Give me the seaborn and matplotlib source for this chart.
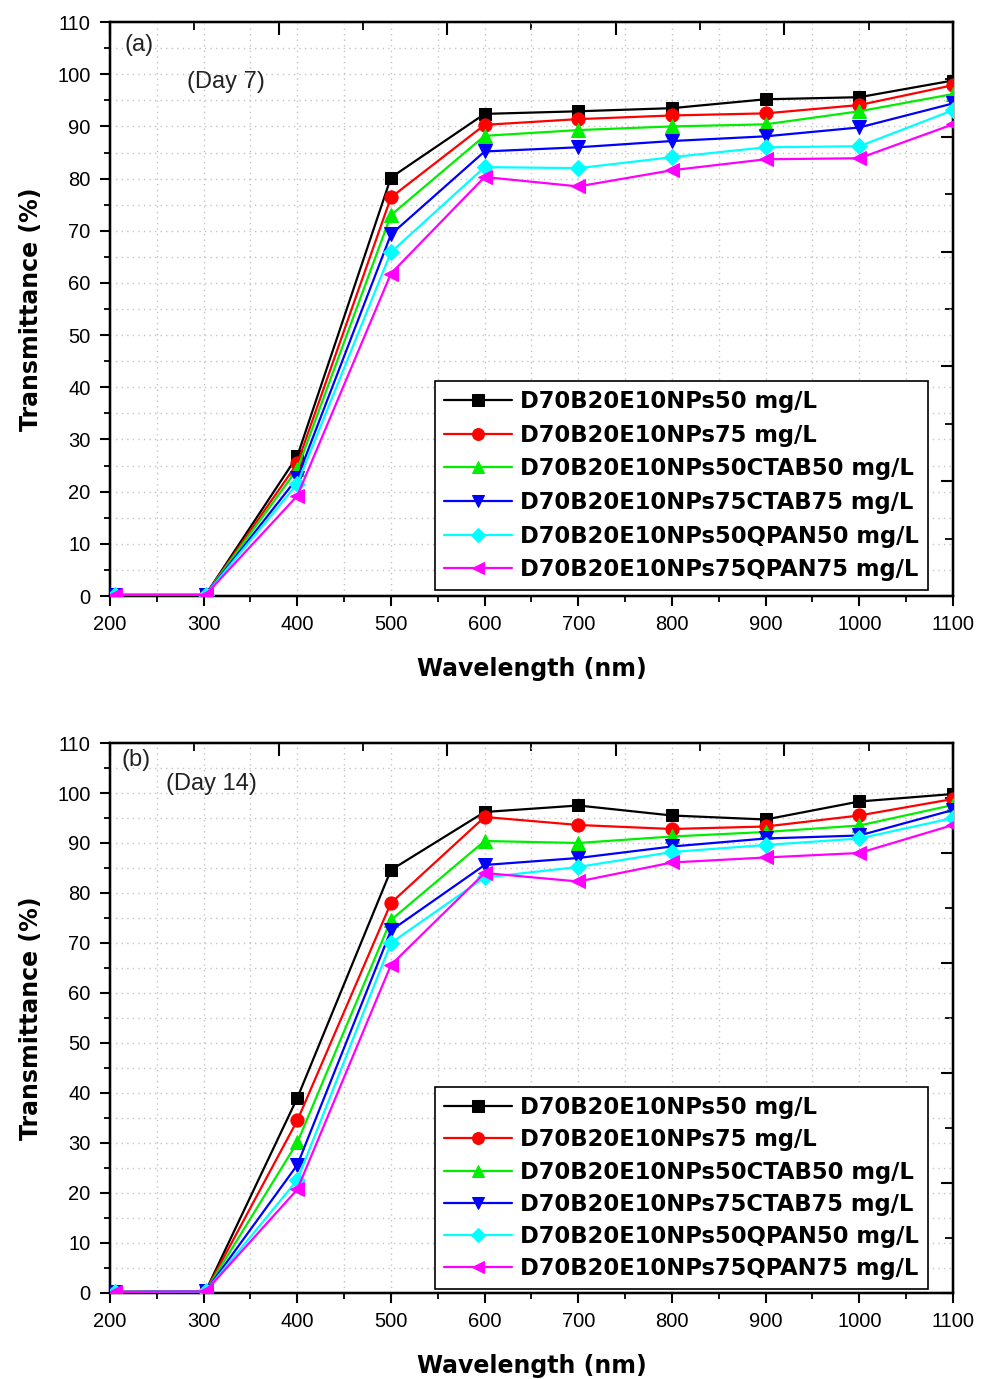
import numpy as np
import pandas as pd
import seaborn as sns
import matplotlib
matplotlib.use("Agg")
import matplotlib.pyplot as plt
from matplotlib.ticker import MultipleLocator

sns.set_style("white")
plt.rcParams['font.family'] = ['Liberation Sans', 'DejaVu Sans']
plt.rcParams['text.color'] = 'black'
plt.rcParams['axes.labelcolor'] = 'black'
plt.rcParams['xtick.color'] = 'black'
plt.rcParams['ytick.color'] = 'black'

# wavelength (nm)
wavelength = [205, 302, 400, 500, 600, 700, 800, 900, 1000, 1100]

series_names = [
    'D70B20E10NPs50 mg/L',
    'D70B20E10NPs75 mg/L',
    'D70B20E10NPs50CTAB50 mg/L',
    'D70B20E10NPs75CTAB75 mg/L',
    'D70B20E10NPs50QPAN50 mg/L',
    'D70B20E10NPs75QPAN75 mg/L',
]
colors = ['#000000', '#ff0000', '#00ee00', '#0000ff', '#00ffff', '#ff00ff']
markers = ['s', 'o', '^', 'v', 'D', '<']
marker_sizes = [9, 9.5, 10, 10, 8, 10]

# Day 7 transmittance (%)
day7_np50 = [0.2, 0.2, 26.8, 80.2, 92.4, 92.9, 93.5, 95.2, 95.6, 98.8]
day7_np75 = [0.2, 0.2, 25.4, 76.4, 90.3, 91.4, 92.1, 92.5, 94.1, 97.9]
day7_ctab50 = [0.2, 0.2, 24.3, 73.0, 88.2, 89.3, 90.0, 90.4, 92.9, 96.2]
day7_ctab75 = [0.2, 0.2, 22.6, 69.3, 85.2, 86.0, 87.2, 88.1, 89.8, 94.4]
day7_qpan50 = [0.2, 0.2, 21.5, 65.9, 82.2, 82.0, 84.1, 86.0, 86.2, 93.1]
day7_qpan75 = [0.2, 0.2, 19.2, 61.8, 80.3, 78.5, 81.6, 83.7, 83.9, 90.4]

# Day 14 transmittance (%)
day14_np50 = [0.2, 0.3, 39.0, 84.6, 96.2, 97.5, 95.5, 94.7, 98.3, 99.8]
day14_np75 = [0.2, 0.3, 34.5, 78.0, 95.2, 93.6, 92.8, 93.3, 95.5, 98.8]
day14_ctab50 = [0.2, 0.3, 30.1, 74.6, 90.4, 90.0, 91.3, 92.2, 93.5, 97.6]
day14_ctab75 = [0.2, 0.3, 25.6, 72.5, 85.6, 87.0, 89.3, 90.9, 91.5, 96.6]
day14_qpan50 = [0.2, 0.3, 22.6, 70.0, 83.1, 85.2, 88.2, 89.6, 90.9, 95.0]
day14_qpan75 = [0.2, 0.3, 20.7, 65.6, 84.0, 82.3, 86.1, 87.1, 88.0, 93.6]

panels = [
    ('(a)', '(Day 7)', [day7_np50, day7_np75, day7_ctab50, day7_ctab75, day7_qpan50, day7_qpan75]),
    ('(b)', '(Day 14)', [day14_np50, day14_np75, day14_ctab50, day14_ctab75, day14_qpan50, day14_qpan75]),
]

fig = plt.figure(figsize=(9.81, 13.79), dpi=100)
axes_rects = [[0.1121, 0.5678, 0.8593, 0.4162], [0.1121, 0.0624, 0.8593, 0.3988]]
label_pos = [((0.017, 0.960), (0.091, 0.8955)), ((0.014, 0.969), (0.066, 0.9255))]
legend_spacing = [0.47, 0.41]

for rect, (tag, day, values), (tag_xy, day_xy), lsp in zip(axes_rects, panels, label_pos, legend_spacing):
    ax = fig.add_axes(rect)
    for name, vals, c, m, ms in zip(series_names, values, colors, markers, marker_sizes):
        df = pd.DataFrame({'Wavelength': wavelength, 'Transmittance': vals})
        sns.lineplot(data=df, x='Wavelength', y='Transmittance', ax=ax, color=c,
                     marker=m, markersize=ms, markeredgecolor=c, linewidth=1.6,
                     label=name, zorder=3)

    ax.set_xlim(200, 1100)
    ax.set_ylim(0, 110)
    ax.xaxis.set_major_locator(MultipleLocator(100))
    ax.xaxis.set_minor_locator(MultipleLocator(50))
    ax.yaxis.set_major_locator(MultipleLocator(10))
    ax.yaxis.set_minor_locator(MultipleLocator(5))
    ax.grid(True, which='both', color='#c4c4c4', linestyle=(0, (1, 3)), linewidth=1.0)
    ax.set_axisbelow(True)
    ax.tick_params(which='major', direction='out', length=7, width=1.5,
                   labelsize=14.5, pad=7)
    ax.tick_params(which='minor', direction='out', length=4, width=1.3)
    for s in ax.spines.values():
        s.set_linewidth(1.6)
        s.set_color('black')

    ax.set_xlabel('Wavelength (nm)', family='DejaVu Sans', fontweight='bold',
                  fontsize=17, labelpad=16)
    ax.set_ylabel('Transmittance (%)', family='DejaVu Sans', fontweight='bold',
                  fontsize=17, labelpad=10)

    # decorative top/right axes with their own tick spacing
    top = ax.twiny()
    top.set_xlim(0, 5)
    top.xaxis.set_major_locator(MultipleLocator(1))
    top.xaxis.set_minor_locator(MultipleLocator(0.5))
    top.tick_params(which='major', direction='in', length=9, width=1.5, labeltop=False)
    top.tick_params(which='minor', direction='in', length=6, width=1.3)
    right = ax.twinx()
    right.set_ylim(0, 5)
    right.yaxis.set_major_locator(MultipleLocator(1))
    right.yaxis.set_minor_locator(MultipleLocator(0.5))
    right.tick_params(which='major', direction='in', length=9, width=1.5, labelright=False)
    right.tick_params(which='minor', direction='in', length=6, width=1.3)
    for t in (top, right):
        t.grid(False)
        for s in t.spines.values():
            s.set_linewidth(1.6)

    ax.text(tag_xy[0], tag_xy[1], tag, transform=ax.transAxes, fontsize=17,
            ha='left', va='center', color='#222222')
    ax.text(day_xy[0], day_xy[1], day, transform=ax.transAxes, fontsize=17,
            ha='left', va='center', color='#222222')

    leg = ax.legend(loc='upper left', bbox_to_anchor=(0.3855, 0.3746), borderaxespad=0,
                    prop={'family': 'DejaVu Sans', 'weight': 'bold', 'size': 16.3},
                    frameon=True, fancybox=False, edgecolor='black', framealpha=1,
                    handlelength=3.0, handletextpad=0.35, labelspacing=lsp,
                    borderpad=0.4, markerscale=0.9)
    leg.get_frame().set_linewidth(1.2)
    leg.set_zorder(10)
    # keep legend above twin axes
    ax.set_zorder(top.get_zorder() + 2)
    ax.patch.set_visible(False)

fig.savefig('out.png', dpi=100)
